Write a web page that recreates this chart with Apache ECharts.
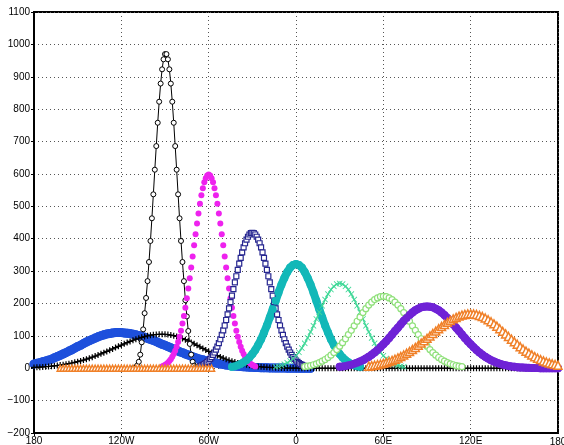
<!DOCTYPE html>
<html>
<head>
<meta charset="utf-8">
<script src="https://cdn.jsdelivr.net/npm/echarts@6/dist/echarts.min.js"></script>
<style>
html,body{margin:0;padding:0;background:#fff;}
#chart{width:564px;height:445px;}
</style>
</head>
<body>
<div id="chart"></div>
<script>
// x tick labels (longitude -180..180 every 60)
const xTickValues = [-180, -120, -60, 0, 60, 120, 180];
const xTickLabels = ['180', '120W', '60W', '0', '60E', '120E', '180'];

// Series: start longitude, step (degrees)
const blueStart = -180, blueStep = 2;
const blueValues = [13,15,17,20,22,25,28,32,36,40,44,48,53,57,62,67,71,76,81,85,89,93,97,100,103,106,107,109,110,110,
  110,109,108,107,105,103,101,98,96,92,89,86,82,78,74,71,67,63,59,55,51,48,44,41,37,34,31,28,26,23,21,19,17,15,13,12,10,9,8,7,6,5,4.5,4,3.3,2.8,2.4,2,1.7,1.5,1.2,1,0.9,0.7,0.6,0.5,
  0.4,0.3,0.3,0.2,0.2,0.1,0.1,0.1,0.1,0];

const plusStart = -180, plusStep = 2;
const plusValues = [2.4,2.8,3.4,3.9,4.6,5.4,6.3,7.2,8.4,9.6,11,12.5,14.2,16.1,18.1,20.3,22.7,25.3,28,31,34.1,37.4,40.8,44.4,48.1,51.9,55.8,59.7,63.7,67.7,71.6,75.5,79.3,82.9,86.4,89.7,92.6,95.4,97.9,100,101.8,103.2,104.2,104.8,105,
  104.7,103.9,102.4,100.5,98,95.1,91.8,88.1,84,79.8,75.3,70.7,66,61.3,56.6,52,47.5,43.2,39,35,31.3,27.8,24.6,21.7,18.9,16.4,14.2,12.2,10.4,8.9,7.5,6.3,5.3,4.4,3.6,3,2.5,2,1.6,1.3,1,0.8,0.6,0.5,0.4,0.3,
  0.2,0.2,0.1,0.1,0.1,0,0,0,0,0,0,0,0,0,0,0,0,0,0,0,0,0,0,0,0,0,0,0,0,0,0,0,0,0,0,0,0,0,0,0,0,0,0,0,0,
  0,0,0,0,0,0,0,0,0,0,0,0,0,0,0,0,0,0,0,0,0,0,0,0,0,0,0,0,0,0,0,0,0,0,0,0,0,0,0,0,0,0,0,0,0];

const circleStart = -112, circleStep = 1;
const circleValues = [0,1,3,9,20,42,80,120,170,217,269,328,393,463,537,613,686,758,823,879,923,954,970,
  970,954,923,879,823,758,686,613,537,463,393,328,269,210,160,115,75,42,20,8,3,1,0];

const magentaStart = -92, magentaStep = 1;
const magentaValues = [5.7,7.6,10.1,13.2,17,22,27.9,35.2,44,54.3,66.6,81,97.5,116,138,161,187,216,246,278,311,345,380,414,447,478,508,534,556,574,587,595,
  598,
  595,587,574,556,534,508,478,447,414,380,345,311,278,246,216,187,161,138,116,97.5,81,66.6,54.3,44,35.2,27.9,22,17,13.2,10.1,7.6,5.7];

const navyStart = -66, navyStep = 1;
const navyValues = [6.7,8.4,10.6,13.1,16.1,19.7,23.9,28.8,34.6,41.1,48.6,57.2,66.7,77.5,89.5,103,117,132,149,166,185,204,224,244,265,284,304,323,341,358,373,386,397,406,413,417,
  418,
  417,413,406,397,386,373,358,341,323,304,284,265,244,224,204,185,166,149,132,117,103,89.5,77.5,66.7,57.2,48.6,41.1,34.6,28.8,23.9,19.7,16.1,13.1,10.6,8.4,6.7];

const tealStart = -44, tealStep = 2;
const tealValues = [4.4,6.4,9.2,13,18.1,24.7,33.1,43.6,56.4,71.7,89.5,110,132,157,182,208,234,258,279,297,311,319,
  322,
  319,311,297,279,258,234,208,182,157,132,110,89.5,71.7,56.4,43.6,33.1,24.7,18.1,13,9.2,6.4,4.4];

const mintStart = -14, mintStep = 2;
const mintValues = [4.3,6.1,8.7,12.1,16.6,22.4,29.7,38.6,49.4,62.2,76.9,93.6,112,131,152,173,193,212,229,243,253,260,
  262,
  260,253,243,229,212,193,173,152,131,112,93.6,76.9,62.2,49.4,38.6,29.7,22.4,16.6,12.1,8.7,6.1,4.3];

const lightGreenStart = 6, lightGreenStep = 2;
const lightGreenValues = [4.8,6.3,8.3,10.7,13.7,17.4,21.8,27,33.2,40.2,48.4,57.6,68,79,91,104,117,131,145,158,172,184,195,204,212,217,221,
  222,
  221,217,212,204,195,184,172,158,145,131,117,104,91,79,68,57.6,48.4,40.2,33.2,27,21.8,17.4,13.7,10.7,8.3,6.3,4.8];

const purpleStart = 30, purpleStep = 2;
const purpleValues = [4.3,5.5,7,8.9,11.1,13.7,16.9,20.6,24.9,29.8,35.4,41.7,48.8,56.5,65,74,83.5,93.5,104,115,125,136,146,155,164,172,179,184,188,190,
  191,
  190,188,184,179,172,164,155,146,136,125,115,104,93.5,83.5,74,65,56.5,48.8,41.7,35.4,29.8,24.9,20.6,16.9,13.7,11.1,8.9,7,5.5,4.3,3.3,2.5,1.9,1.5,1.1,0.8,0.6,0.4,0.3,0.2,0.15,0.1,0.1,0,0];

const orangeStart = 50, orangeStep = 2;
const orangeValues = [6.4,7.7,9.2,10.9,12.9,15.2,17.8,20.8,24,27.7,31.8,36.1,40.9,46.1,51.7,57.7,64.1,70.8,77.7,84.9,92.2,99.7,107.2,114.6,121.8,128.7,135.3,141.7,147.4,152.6,157,161,164,166.2,167.6,
  168,
  167.5,165.9,163.2,159.6,155.1,149.7,143.6,137,129.8,122,114,106,97.9,89.8,81.9,74.1,66.7,59.5,52.8,46.7,41,35.7,30.9,26.6,22.7,19.3,16.3,13.7,11.4,9.4];

const orangeZeroStart = -162, orangeZeroStep = 2;
const orangeZeroValues = [0,0,0,0,0,0,0,0,0,0,0,0,0,0,0,0,0,0,0,0,0,0,0,0,0,0,0,0,0,0,0,0,0,0,0,0,0,0,0,0,0,0,0,0,0,0,0,0,0,0,0,0,0];

function pairs(start, step, values) {
  return values.map(function (v, i) { return [start + i * step, v]; });
}

const PLUS = 'path://M4,0h2v4h4v2h-4v4h-2v-4h-4v-2h4z';
const XMARK = 'path://M0,1L1,0L5,4L9,0L10,1L6,5L10,9L9,10L5,6L1,10L0,9L4,5Z';

// marker-only series; optional band line (same colour) to make dense bands continuous
function markSeries(data, symbol, size, fill, stroke, bw, bandWidth) {
  return {
    type: 'line', data: data, symbol: symbol, symbolSize: size, showSymbol: true,
    lineStyle: { color: stroke, width: bandWidth || 0, opacity: bandWidth ? 1 : 0, cap: 'round', join: 'round' },
    itemStyle: { color: fill, borderColor: stroke, borderWidth: bw, opacity: 1 },
    emphasis: { disabled: true }, silent: true, clip: true
  };
}

const chart = echarts.init(document.getElementById('chart'), null, { renderer: 'canvas' });
const font = 'Liberation Sans';
const gridLine = { show: true, lineStyle: { color: '#555', width: 1, type: [1, 3] } };
chart.setOption({
  animation: false,
  backgroundColor: '#ffffff',
  grid: { left: 34, right: 6, top: 12, bottom: 12, show: true, borderColor: '#000', borderWidth: 2,
          backgroundColor: 'transparent', containLabel: false, outerBoundsMode: 'none' },
  xAxis: {
    type: 'value', min: -180, max: 180, interval: 60,
    axisLine: { onZero: false, lineStyle: { color: '#000', width: 2 } },
    axisTick: { show: true, length: 3, lineStyle: { color: '#000' } },
    axisLabel: {
      margin: 3, color: '#000', fontFamily: font, fontSize: 10, hideOverlap: false, showMaxLabel: false,
      formatter: function (v) { const i = xTickValues.indexOf(v); return (i >= 0 && v < 180) ? xTickLabels[i] : ''; }
    },
    splitLine: gridLine
  },
  yAxis: {
    type: 'value', min: -200, max: 1100, interval: 100,
    axisLine: { show: true, onZero: false, lineStyle: { color: '#000', width: 2 } },
    axisTick: { show: true, length: 3, lineStyle: { color: '#000' } },
    axisLabel: {
      margin: 4, color: '#000', fontFamily: font, fontSize: 10,
      formatter: function (v) { return v < 0 ? '\u2212' + Math.abs(v) : String(v); }
    },
    splitLine: gridLine
  },
  series: [
    markSeries(pairs(blueStart, blueStep, blueValues), 'circle', 9, '#1e50dc', '#1e50dc', 0, 9),
    {
      type: 'line', data: pairs(plusStart, plusStep, plusValues), symbol: PLUS, symbolSize: 6, showSymbol: true,
      lineStyle: { color: '#000', width: 1 }, itemStyle: { color: '#000' }, silent: true
    },
    {
      type: 'line', data: pairs(circleStart, circleStep, circleValues), symbol: 'circle', symbolSize: 5, showSymbol: true,
      lineStyle: { color: '#000', width: 1 }, itemStyle: { color: '#fff', borderColor: '#000', borderWidth: 1 }, silent: true
    },
    markSeries(pairs(magentaStart, magentaStep, magentaValues), 'circle', 6, '#ee22ee', '#ee22ee', 0, 0),
    markSeries(pairs(navyStart, navyStep, navyValues), 'rect', 5, '#ffffff', '#262690', 1.2, 0),
    markSeries(pairs(tealStart, tealStep, tealValues), 'circle', 8, '#12b8b8', '#12b8b8', 0, 8),
    markSeries(pairs(mintStart, mintStep, mintValues), XMARK, 6, '#40d898', '#40d898', 0, 1.5),
    markSeries(pairs(lightGreenStart, lightGreenStep, lightGreenValues), 'circle', 6, '#ffffff', '#8fe07a', 1.2, 0),
    markSeries(pairs(purpleStart, purpleStep, purpleValues), 'circle', 8, '#6f22d6', '#6f22d6', 0, 8),
    markSeries(pairs(orangeStart, orangeStep, orangeValues), 'triangle', 8, '#ffffff', '#f08028', 1.5, 0),
    markSeries(pairs(orangeZeroStart, orangeZeroStep, orangeZeroValues), 'triangle', 6, '#ffffff', '#f08028', 1.5, 0)
  ]
});

// last x label, centred on its tick like the others (it runs off the page edge, as in the original)
const lastTick = xTickValues[xTickValues.length - 1];
const p = chart.convertToPixel({ gridIndex: 0 }, [lastTick, -200]);
chart.setOption({
  graphic: [{
    type: 'text', x: p[0], y: p[1] + 4, silent: true,
    style: { text: xTickLabels[xTickLabels.length - 1], fill: '#000', font: '10px "Liberation Sans"', align: 'center', verticalAlign: 'top' }
  }]
});
</script>
</body>
</html>
